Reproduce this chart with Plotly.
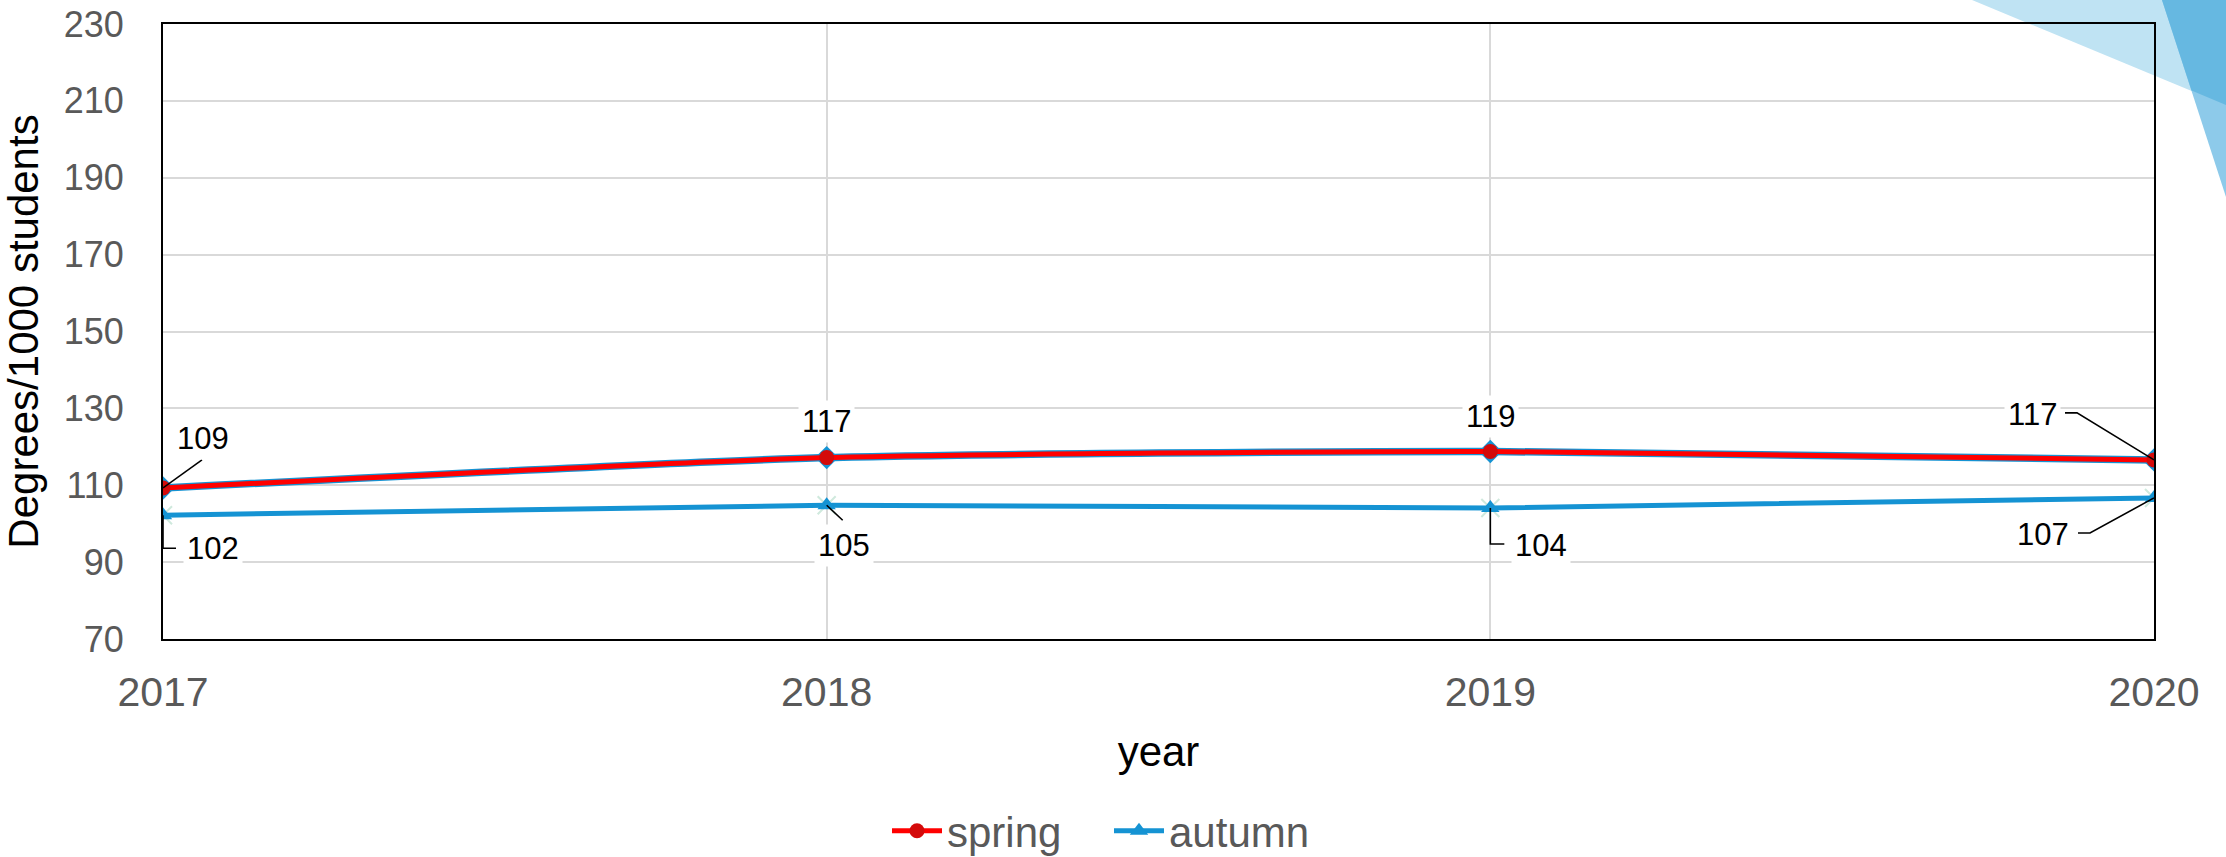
import plotly.graph_objects as go

years = [2017, 2018, 2019, 2020]
spring = [109.3, 117.2, 118.8, 116.6]
autumn = [102.2, 104.8, 104.1, 106.7]
spring_labels = ["109", "117", "119", "117"]
autumn_labels = ["102", "105", "104", "107"]
y_ticks = [70, 90, 110, 130, 150, 170, 190, 210, 230]

RED = "#FF0000"
RED_MK = "#D40A0A"
BLUE = "#1593D3"

# plot area in pixels
L, T, R, B = 163, 24, 72, 218
W, H = 2226, 857
PW, PH = W - L - R, H - T - B


def px(x):
    return (x - L) / PW


def py(y):
    return 1 - (y - T) / PH


fig = go.Figure()

# blue "edge" underneath spring line
fig.add_trace(go.Scatter(
    x=years, y=spring, mode="lines+markers", showlegend=False, hoverinfo="skip",
    line=dict(color=BLUE, width=7.5, shape="spline", smoothing=0.6),
    marker=dict(symbol="diamond", size=18, color=BLUE),
))
# pale x markers behind autumn triangles
fig.add_trace(go.Scatter(
    x=years, y=autumn, mode="markers", showlegend=False, hoverinfo="skip",
    marker=dict(symbol="x-thin", size=18, line=dict(color="#CFE9DD", width=2)),
))
fig.add_trace(go.Scatter(
    x=years, y=spring, mode="lines+markers", name="spring",
    line=dict(color=RED, width=5, shape="spline", smoothing=0.6),
    marker=dict(symbol="circle", size=15, color=RED_MK),
))
fig.add_trace(go.Scatter(
    x=years, y=autumn, mode="lines+markers", name="autumn",
    line=dict(color=BLUE, width=5, shape="spline", smoothing=0.6),
    marker=dict(symbol="triangle-up", size=16, color=BLUE),
))

# label placement (pixel offsets, y up) and leader-line polylines (pixels, y up)
spring_place = [
    (40, 49, [(0, 0), (39, 28)]),
    (0, 36, None),
    (0, 35, None),
    (-122, 45, [(0, 0), (-77, 47), (-89, 47)]),
]
autumn_place = [
    (50, -33, [(0, 0), (0, -33), (13, -33)]),
    (17, -40, [(0, 0), (16, -15)]),
    (51, -38, [(0, 0), (0, -36), (14, -36)]),
    (-111, -37, [(0, 0), (-64, -35), (-76, -35)]),
]

LABEL_FONT = dict(size=31, color="black", family="Liberation Sans, Arial")
annotations = []
shapes = []
for xs, ys, labs, places in [(years, spring, spring_labels, spring_place),
                             (years, autumn, autumn_labels, autumn_place)]:
    for xv, yv, lab, (dx, dy, leader) in zip(xs, ys, labs, places):
        if leader:
            shapes.append(dict(
                type="path", xref="x", yref="y", xsizemode="pixel", ysizemode="pixel",
                xanchor=xv, yanchor=yv,
                path="M " + " L ".join(f"{a},{b}" for a, b in leader),
                line=dict(color="black", width=1.6), layer="above",
            ))
        annotations.append(dict(
            x=xv, y=yv, text=lab, showarrow=False, xshift=dx, yshift=dy,
            bgcolor="white", borderpad=3, font=LABEL_FONT,
        ))

# decorative triangles at top-right
light = [(1972, 0), (2240, 0), (2240, 111)]
medium = [(2162, 0), (2240, 0), (2240, 240)]
overlap = [(2162, 0), (2240, 0), (2240, 111), (2191.5, 90.6)]


def path(pts):
    return "M " + " L ".join(f"{px(a):.5f},{py(b):.5f}" for a, b in pts) + " Z"


shapes = [
    dict(type="path", xref="paper", yref="paper", path=path(light),
         fillcolor="#BFE3F3", line=dict(width=0), layer="below"),
    dict(type="path", xref="paper", yref="paper", path=path(medium),
         fillcolor="#8DCAEA", line=dict(width=0), layer="below"),
    dict(type="path", xref="paper", yref="paper", path=path(overlap),
         fillcolor="#66B8E1", line=dict(width=0), layer="below"),
] + shapes

fig.update_layout(
    width=W, height=H,
    margin=dict(l=L, r=R, t=T, b=B, autoexpand=False),
    paper_bgcolor="white",
    plot_bgcolor="rgba(0,0,0,0)",
    font=dict(family="Liberation Sans, Arial", color="#595959"),
    showlegend=True,
    legend=dict(orientation="h", xref="container", yref="container",
                x=1109 / W, y=1 - 831 / H, xanchor="center", yanchor="middle",
                font=dict(size=42, color="#595959"),
                bgcolor="rgba(0,0,0,0)", itemwidth=50, tracegroupgap=0,
                entrywidth=157),
    annotations=annotations,
    shapes=shapes,
)

fig.update_xaxes(
    range=[2017, 2020], tickvals=years, ticktext=[str(y) for y in years],
    showgrid=True, gridcolor="#D9D9D9", gridwidth=2,
    showline=True, linecolor="black", linewidth=2, mirror=True,
    tickfont=dict(size=41, color="#595959"), ticks="", ticklabelstandoff=16,
    title=dict(text="year", font=dict(size=42, color="black"), standoff=22),
    zeroline=False, automargin=False,
)
fig.update_yaxes(
    range=[70, 230], tickvals=y_ticks,
    showgrid=True, gridcolor="#D9D9D9", gridwidth=2,
    showline=True, linecolor="black", linewidth=2, mirror=True,
    tickfont=dict(size=36, color="#595959"), ticks="", ticklabelstandoff=30,
    title=dict(text="Degrees/1000 students", font=dict(size=42, color="black"), standoff=14),
    zeroline=False, automargin=False,
)

fig.write_html(
    "out.html",
    config={"displayModeBar": False},
    post_script="document.body.style.margin='0';document.body.style.overflow='hidden';",
)
